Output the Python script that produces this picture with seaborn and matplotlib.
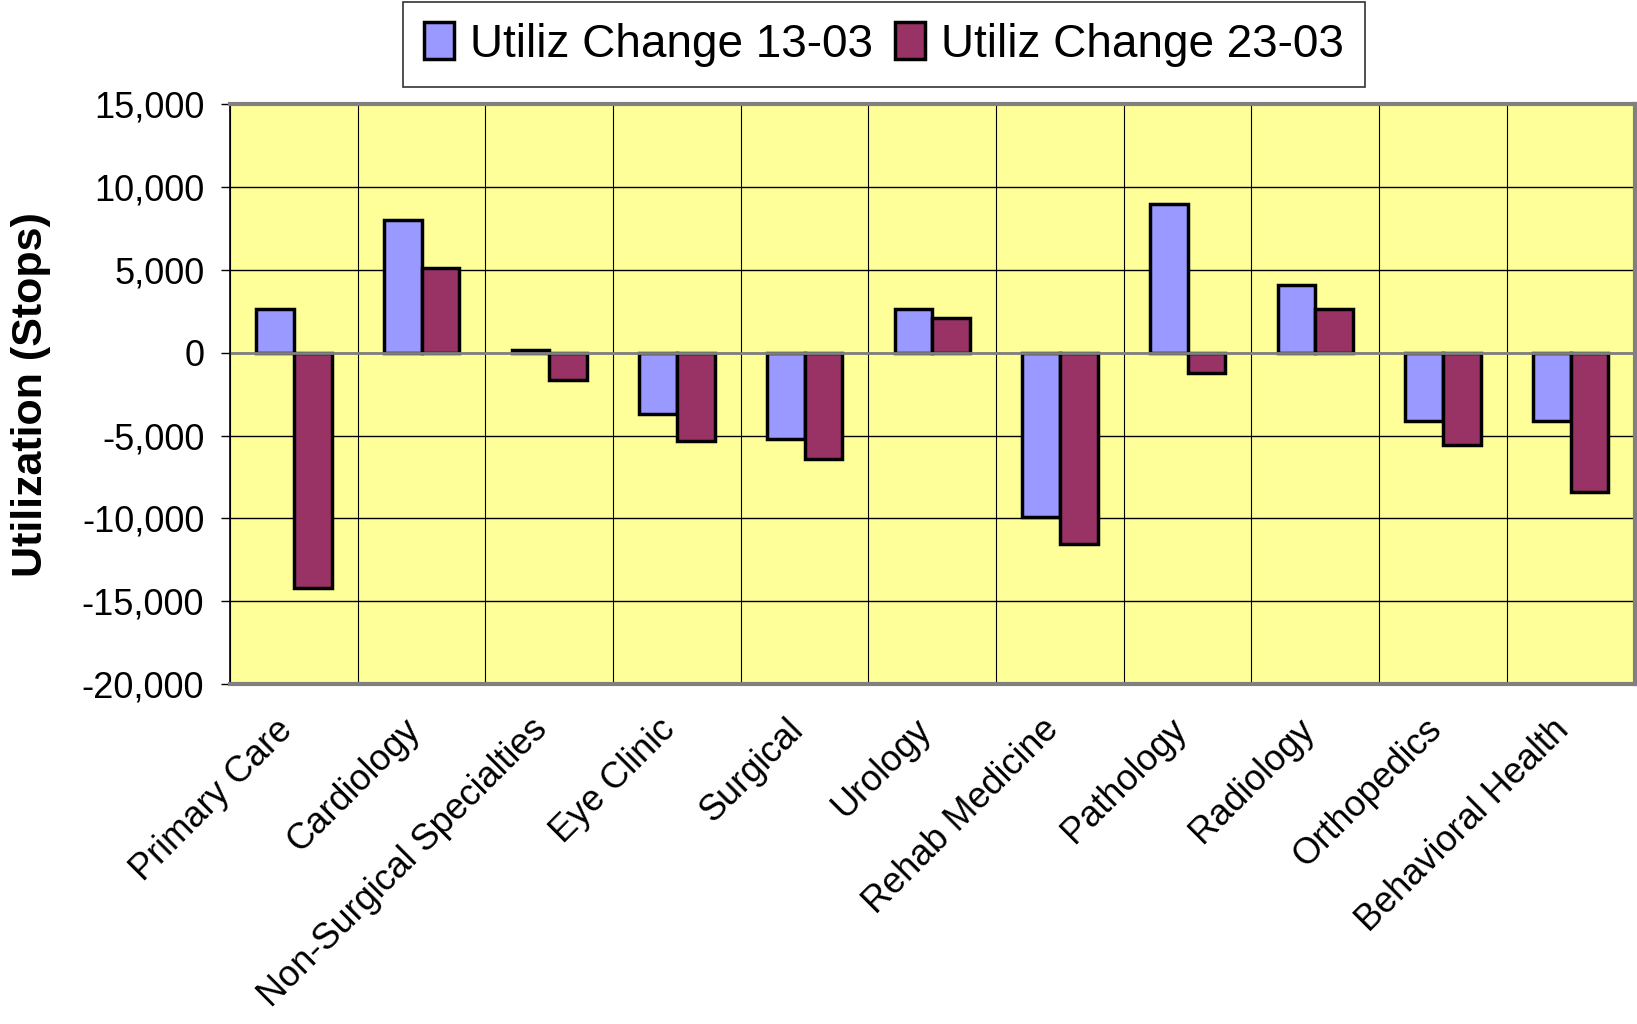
import numpy as np
import pandas as pd
import matplotlib
matplotlib.use("Agg")
import matplotlib.pyplot as plt
from matplotlib.ticker import MultipleLocator, FuncFormatter
import seaborn as sns

categories = ["Primary Care", "Cardiology", "Non-Surgical Specialties", "Eye Clinic",
              "Surgical", "Urology", "Rehab Medicine", "Pathology", "Radiology",
              "Orthopedics", "Behavioral Health"]
change_13_03 = [2650, 8000, 150, -3700, -5200, 2650, -9900, 9000, 4100, -4100, -4100]
change_23_03 = [-14200, 5100, -1650, -5350, -6400, 2100, -11550, -1200, 2650, -5550, -8400]
series_names = ["Utiliz Change 13-03", "Utiliz Change 23-03"]

df = pd.DataFrame({
    "Service": categories * 2,
    "Series": [series_names[0]] * len(categories) + [series_names[1]] * len(categories),
    "Stops": change_13_03 + change_23_03,
})

sns.set_style("white")
plt.rcParams["font.family"] = ["Liberation Sans", "DejaVu Sans"]
plt.rcParams["text.color"] = "black"
plt.rcParams["axes.labelcolor"] = "black"
plt.rcParams["xtick.color"] = "black"
plt.rcParams["ytick.color"] = "black"

fig = plt.figure(figsize=(16.37, 10.24), dpi=100)
ax = fig.add_axes([0.1405, 0.332, 0.858, 0.566])
ax.set_facecolor("#FFFF99")

sns.barplot(data=df, x="Service", y="Stops", hue="Series", order=categories,
            hue_order=series_names, palette=["#9999FF", "#993366"], width=0.59,
            edgecolor="black", linewidth=2.5, saturation=1, ax=ax, legend=True)

ax.set_xlim(-0.5, len(categories) - 0.5)
ax.set_ylim(-20000, 15000)
ax.yaxis.set_major_locator(MultipleLocator(5000))
ax.yaxis.set_major_formatter(FuncFormatter(lambda v, p: f"{int(v):,}"))
ax.set_xticks(np.arange(len(categories)) - 0.5, minor=True)
ax.grid(False)
ax.grid(axis="y", which="major", color="black", linewidth=1)
ax.grid(axis="x", which="minor", color="black", linewidth=0.8)
ax.axhline(0, color="#808080", linewidth=2, zorder=1)
ax.set_axisbelow(True)

ax.tick_params(axis="y", which="major", length=6.5, width=1, labelsize=26, pad=12,
               left=True, color="black", labelcolor="black")
ax.tick_params(axis="x", which="major", length=0, pad=34, labelcolor="black")
ax.tick_params(axis="x", which="minor", length=0)
for lab in ax.get_xticklabels():
    lab.set_rotation(45)
    lab.set_ha("right")
    lab.set_va("baseline")
    lab.set_rotation_mode("anchor")
    lab.set_fontsize(26)

ax.set_xlabel("")
ax.set_ylabel("Utilization (Stops)", fontsize=31, fontweight="bold", labelpad=22)

for side in ["top", "right", "bottom"]:
    ax.spines[side].set_color("#808080")
    ax.spines[side].set_linewidth(3)
ax.spines["left"].set_color("black")
ax.spines["left"].set_linewidth(1.2)

leg = ax.legend(loc="upper center", bbox_to_anchor=(0.4656, 1.177), ncol=2, fontsize=33,
                frameon=True, fancybox=False, edgecolor="black", handlelength=0.65,
                handleheight=0.85, handletextpad=0.35, columnspacing=0.5,
                borderpad=0.45, borderaxespad=0, title=None)
leg.get_frame().set_linewidth(1.2)
for t in leg.get_texts():
    t.set_color("black")

fig.savefig("out.png", dpi=100)
